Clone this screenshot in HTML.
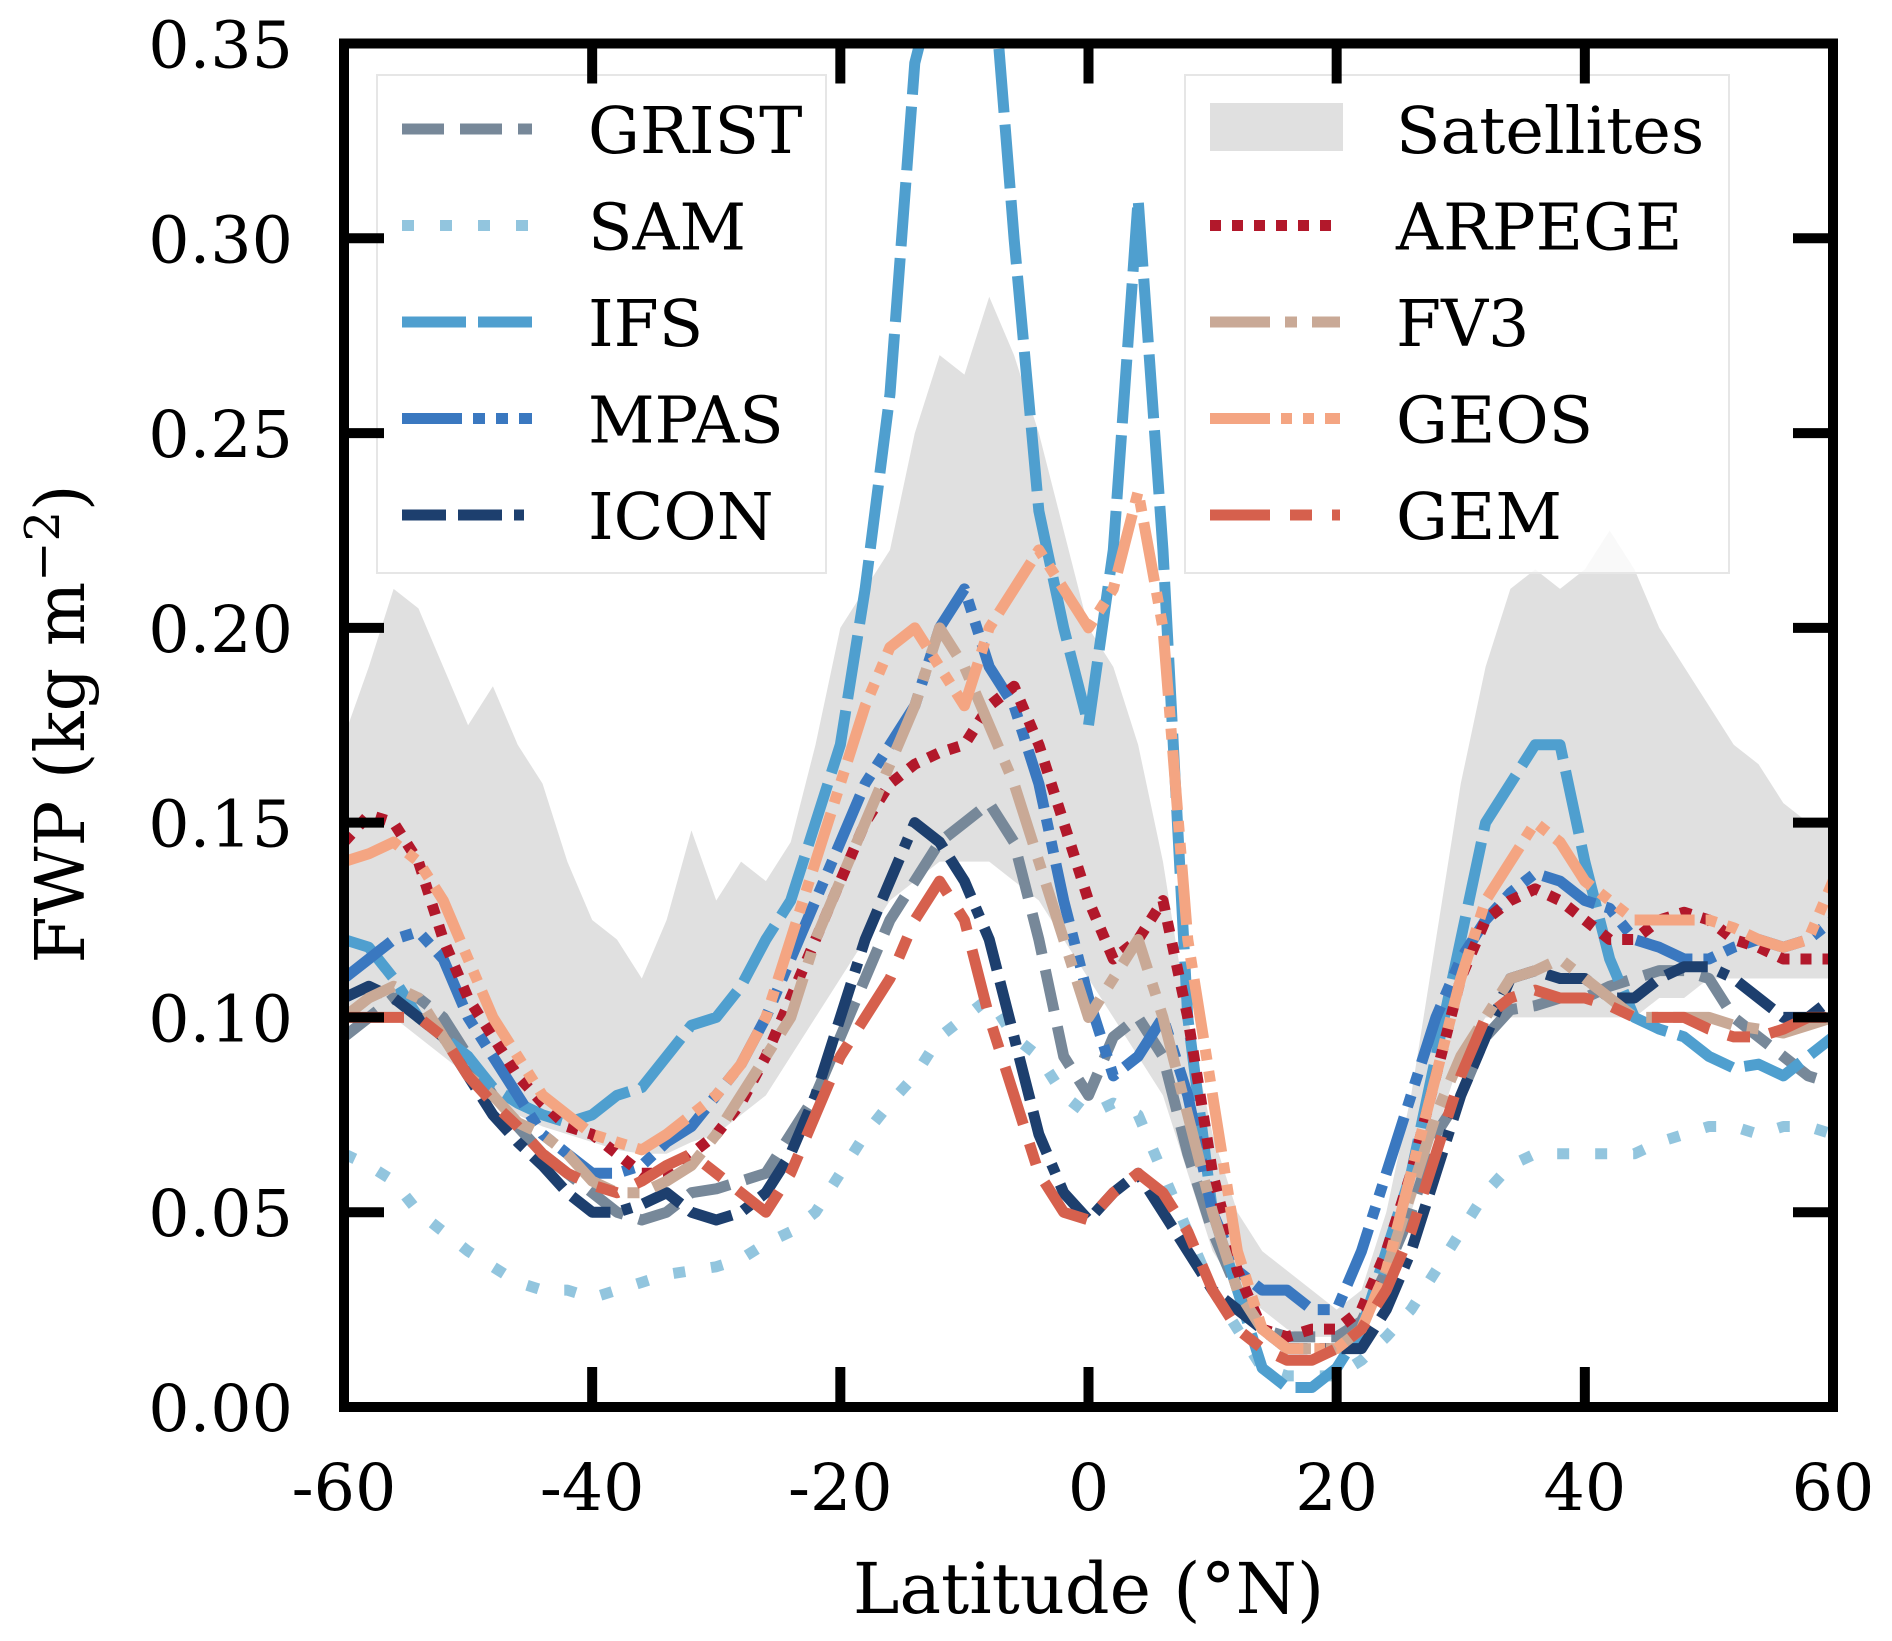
<!DOCTYPE html>
<html><head><meta charset="utf-8"><style>
html,body{margin:0;padding:0;background:#fff;}
svg{display:block;font-family:"DejaVu Serif","Liberation Serif",serif;}
</style></head><body>
<svg id="chart" width="1892" height="1641" viewBox="0 0 1892 1641" xmlns="http://www.w3.org/2000/svg"></svg>
<script>
const lats = [-60,-58,-56,-54,-52,-50,-48,-46,-44,-42,-40,-38,-36,-34,-32,-30,-28,-26,-24,-22,-20,-18,-16,-14,-12,-10,-8,-6,-4,-2,0,2,4,6,8,10,12,14,16,18,20,22,24,26,28,30,32,34,36,38,40,42,44,46,48,50,52,54,56,58,60];
const satUpper = [0.172,0.19,0.21,0.205,0.19,0.175,0.185,0.17,0.16,0.14,0.125,0.12,0.11,0.125,0.148,0.13,0.14,0.135,0.145,0.17,0.2,0.21,0.22,0.25,0.27,0.265,0.285,0.27,0.25,0.225,0.2,0.19,0.17,0.14,0.1,0.07,0.05,0.04,0.035,0.03,0.025,0.03,0.05,0.08,0.12,0.16,0.19,0.21,0.215,0.21,0.215,0.225,0.215,0.2,0.19,0.18,0.17,0.165,0.155,0.15,0.15];
const satLower = [0.1,0.1,0.1,0.095,0.09,0.085,0.08,0.075,0.072,0.07,0.068,0.066,0.065,0.065,0.068,0.07,0.075,0.08,0.09,0.1,0.11,0.12,0.13,0.135,0.14,0.14,0.14,0.135,0.13,0.12,0.11,0.1,0.09,0.08,0.06,0.04,0.03,0.025,0.02,0.018,0.018,0.02,0.03,0.05,0.07,0.09,0.1,0.1,0.1,0.1,0.1,0.1,0.1,0.105,0.105,0.11,0.11,0.11,0.11,0.11,0.11];
const grist = [0.095,0.1,0.105,0.105,0.1,0.09,0.08,0.072,0.065,0.06,0.055,0.05,0.048,0.05,0.055,0.056,0.058,0.06,0.07,0.08,0.095,0.11,0.125,0.135,0.145,0.15,0.155,0.145,0.12,0.09,0.08,0.095,0.1,0.09,0.065,0.045,0.03,0.02,0.018,0.018,0.018,0.022,0.035,0.05,0.07,0.08,0.095,0.102,0.103,0.105,0.105,0.108,0.11,0.112,0.112,0.11,0.1,0.095,0.09,0.085,0.083];
const sam = [0.065,0.062,0.058,0.05,0.045,0.04,0.036,0.032,0.03,0.03,0.028,0.03,0.032,0.034,0.035,0.036,0.038,0.042,0.045,0.05,0.06,0.07,0.078,0.085,0.095,0.1,0.105,0.095,0.09,0.08,0.075,0.078,0.075,0.06,0.045,0.03,0.02,0.01,0.008,0.008,0.008,0.012,0.018,0.025,0.035,0.045,0.055,0.062,0.065,0.065,0.065,0.065,0.065,0.068,0.07,0.072,0.072,0.07,0.072,0.072,0.07];
const ifs = [0.12,0.118,0.11,0.1,0.095,0.09,0.082,0.078,0.075,0.073,0.075,0.08,0.082,0.09,0.098,0.1,0.108,0.12,0.13,0.15,0.17,0.21,0.26,0.345,0.37,0.4,0.38,0.3,0.23,0.2,0.175,0.22,0.31,0.22,0.1,0.05,0.03,0.01,0.005,0.005,0.01,0.02,0.04,0.06,0.09,0.12,0.15,0.16,0.17,0.17,0.14,0.115,0.1,0.097,0.095,0.09,0.087,0.088,0.085,0.09,0.095];
const mpas = [0.11,0.115,0.12,0.122,0.115,0.1,0.09,0.08,0.07,0.065,0.06,0.06,0.062,0.068,0.072,0.08,0.088,0.1,0.115,0.13,0.145,0.16,0.17,0.18,0.2,0.21,0.19,0.18,0.16,0.13,0.105,0.085,0.09,0.1,0.08,0.05,0.035,0.03,0.03,0.025,0.025,0.04,0.06,0.08,0.1,0.115,0.125,0.132,0.137,0.135,0.13,0.128,0.12,0.118,0.115,0.115,0.118,0.12,0.118,0.12,0.125];
const icon = [0.105,0.108,0.105,0.1,0.095,0.085,0.075,0.068,0.062,0.055,0.05,0.05,0.052,0.055,0.05,0.048,0.05,0.055,0.065,0.08,0.1,0.12,0.135,0.15,0.145,0.135,0.12,0.095,0.07,0.055,0.048,0.055,0.06,0.05,0.04,0.03,0.025,0.02,0.015,0.015,0.015,0.015,0.025,0.04,0.06,0.08,0.095,0.11,0.112,0.11,0.11,0.105,0.105,0.11,0.113,0.113,0.11,0.105,0.1,0.1,0.105];
const arpege = [0.145,0.152,0.15,0.14,0.12,0.105,0.095,0.085,0.078,0.072,0.07,0.065,0.06,0.06,0.065,0.07,0.078,0.09,0.105,0.12,0.135,0.15,0.16,0.165,0.168,0.17,0.18,0.185,0.17,0.15,0.13,0.115,0.12,0.13,0.1,0.06,0.035,0.02,0.018,0.02,0.02,0.025,0.04,0.06,0.085,0.11,0.125,0.13,0.133,0.13,0.125,0.12,0.12,0.125,0.127,0.125,0.12,0.118,0.115,0.115,0.115];
const fv3 = [0.1,0.105,0.108,0.105,0.095,0.085,0.08,0.073,0.07,0.065,0.058,0.055,0.055,0.058,0.062,0.07,0.08,0.09,0.1,0.12,0.135,0.15,0.165,0.18,0.2,0.19,0.175,0.16,0.14,0.12,0.1,0.11,0.12,0.1,0.075,0.05,0.03,0.02,0.015,0.015,0.015,0.02,0.035,0.055,0.075,0.09,0.1,0.11,0.112,0.115,0.11,0.105,0.1,0.1,0.1,0.1,0.098,0.097,0.096,0.098,0.1];
const geos = [0.14,0.142,0.145,0.14,0.13,0.115,0.1,0.09,0.08,0.075,0.07,0.068,0.066,0.07,0.075,0.08,0.088,0.1,0.12,0.14,0.16,0.18,0.195,0.2,0.19,0.18,0.2,0.21,0.22,0.21,0.2,0.21,0.235,0.2,0.12,0.08,0.04,0.02,0.015,0.015,0.015,0.02,0.035,0.06,0.085,0.11,0.13,0.14,0.15,0.145,0.135,0.13,0.125,0.125,0.125,0.125,0.123,0.12,0.118,0.12,0.135];
const gem = [0.1,0.1,0.1,0.1,0.095,0.085,0.078,0.072,0.065,0.06,0.057,0.055,0.058,0.062,0.065,0.06,0.055,0.05,0.06,0.075,0.09,0.1,0.11,0.125,0.135,0.125,0.1,0.08,0.06,0.05,0.048,0.055,0.06,0.055,0.045,0.03,0.02,0.015,0.012,0.012,0.015,0.02,0.03,0.045,0.065,0.085,0.1,0.105,0.107,0.105,0.105,0.103,0.1,0.1,0.1,0.097,0.095,0.095,0.097,0.1,0.1];
const xTicks = [-60,-40,-20,0,20,40,60];
const yTicks = [0,0.05,0.1,0.15,0.2,0.25,0.3,0.35];
const yTickLabels = ["0.00","0.05","0.10","0.15","0.20","0.25","0.30","0.35"];

const NS="http://www.w3.org/2000/svg";
const svg=document.getElementById('chart');
const X0=344,X1=1833,Y0=1407,Y1=43.5;
const xs=v=>X0+(v+60)/120*(X1-X0);
const ys=v=>Y0-v/0.35*(Y0-Y1);
function mk(tag,attrs,parent){const e=document.createElementNS(NS,tag);for(const k in attrs)e.setAttribute(k,attrs[k]);(parent||svg).appendChild(e);return e;}

const defs=mk('defs',{});
const cp=mk('clipPath',{id:'clip'},defs);
mk('rect',{x:X0,y:Y1,width:X1-X0,height:Y0-Y1},cp);
const plot=mk('g',{'clip-path':'url(#clip)'});

let d='M'+lats.map((l,i)=>xs(l)+','+ys(satUpper[i])).join('L');
for(let i=lats.length-1;i>=0;i--)d+='L'+xs(lats[i])+','+ys(satLower[i]);
const band=mk('path',{d:d+'Z',fill:'#e0e0e0'},plot);



const series=[
 {name:'grist',data:grist,color:'#778899',dash:'42,16'},
 {name:'sam',data:sam,color:'#92c5de',dash:'12,26'},
 {name:'ifs',data:ifs,color:'#4f9fcf',dash:'64,12'},
 {name:'mpas',data:mpas,color:'#3a78c0',dash:'60,11,12,11,12,11'},
 {name:'icon',data:icon,color:'#1d3f6e',dash:'44,12,44,12,10,12'},
 {name:'arpege',data:arpege,color:'#b2182b',dash:'11,11'},
 {name:'fv3',data:fv3,color:'#c9a996',dash:'60,15,12,15'},
 {name:'geos',data:geos,color:'#f4a582',dash:'60,11,11,11,11,11'},
 {name:'gem',data:gem,color:'#d6604d',dash:'60,20,22,20'}
];
series.forEach(s=>{
 const p=mk('path',{d:'M'+lats.map((l,i)=>xs(l)+','+ys(s.data[i])).join('L'),fill:'none',stroke:s.color,'stroke-width':11,'stroke-dasharray':s.dash,'stroke-linejoin':'round'},plot);
 
 
});

function legend(x,y,w,h,items,hx,tx,nm){
 const g=mk('g',{});
 
 
 mk('rect',{x:x,y:y,width:w,height:h,fill:'#fff','fill-opacity':0.8,stroke:'#e6e6e6','stroke-width':2},g);
 items.forEach((it,i)=>{
  const cy=129+i*96.5;
  const e=mk('g',{},g);
  
  
  if(it.patch) mk('rect',{x:hx,y:cy-26,width:133,height:48,fill:'#e0e0e0'},e);
  else mk('line',{x1:hx,x2:hx+130,y1:cy,y2:cy,stroke:it.color,'stroke-width':11,'stroke-dasharray':it.dash},e);
  const t=mk('text',{x:tx,y:cy+24,'font-size':65,fill:'#000'},e);t.textContent=it.label;
 });
}
const L=n=>series.find(s=>s.name===n);
legend(377,75,449,498,[
 {label:'GRIST',...L('grist')},{label:'SAM',...L('sam')},{label:'IFS',...L('ifs')},{label:'MPAS',...L('mpas')},{label:'ICON',...L('icon')}
],402,588,'legend-models-left');
legend(1185,75,544,498,[
 {label:'Satellites',patch:true},{label:'ARPEGE',...L('arpege')},{label:'FV3',...L('fv3')},{label:'GEOS',...L('geos')},{label:'GEM',...L('gem')}
],1210,1396,'legend-models-right');

xTicks.forEach(v=>{
 const x=xs(v);
 mk('line',{x1:x,x2:x,y1:Y0,y2:Y0-40,stroke:'#000','stroke-width':10});
 mk('line',{x1:x,x2:x,y1:Y1,y2:Y1+40,stroke:'#000','stroke-width':10});
 const t=mk('text',{x:x,y:1510,'font-size':65,'text-anchor':'middle'});
 
 
 t.textContent=String(v);
});
yTicks.forEach((v,i)=>{
 const y=ys(v);
 mk('line',{x1:X0,x2:X0+40,y1:y,y2:y,stroke:'#000','stroke-width':10});
 mk('line',{x1:X1,x2:X1-40,y1:y,y2:y,stroke:'#000','stroke-width':10});
 const t=mk('text',{x:293,y:y+24,'font-size':65,'text-anchor':'end'});
 
 
 t.textContent=yTickLabels[i];
});
const frame=mk('rect',{x:X0,y:Y1,width:X1-X0,height:Y0-Y1,fill:'none',stroke:'#000','stroke-width':10});



const xl=mk('text',{x:(X0+X1)/2,y:1613,'font-size':70,'text-anchor':'middle'});


xl.textContent='Latitude (°N)';
const yl=mk('text',{x:0,y:0,'font-size':68,'text-anchor':'middle',transform:'translate(84,724) rotate(-90)'});


yl.innerHTML='FWP (kg m<tspan dy="-25" font-size="48">−2</tspan><tspan dy="25">)</tspan>';
</script>
</body></html>
